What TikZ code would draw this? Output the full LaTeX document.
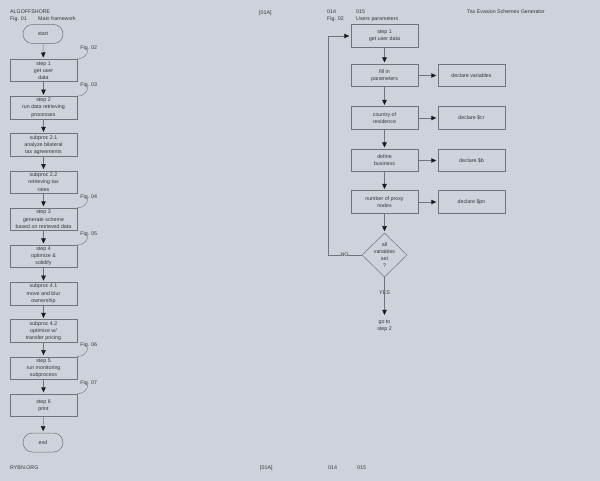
\documentclass[tikz,border=0pt]{standalone}
\usepackage{fontspec}
\setmainfont{Liberation Sans}
\usetikzlibrary{arrows.meta,shapes.geometric,shapes.misc}
\definecolor{bg}{RGB}{206,211,219}
\definecolor{ln}{RGB}{112,116,122}
\definecolor{tx}{RGB}{50,53,58}
\definecolor{hd}{RGB}{25,27,30}
\begin{document}
\begin{tikzpicture}[x=1pt,y=-1pt,
  font=\fontsize{5.3}{7.2}\selectfont,
  every node/.style={text=tx},
  box/.style={draw=ln, line width=0.5pt, minimum width=67pt, minimum height=22.5pt, inner sep=0pt, align=center},
  term/.style={draw=ln, line width=0.5pt, rounded rectangle, minimum width=40pt, minimum height=19pt, inner sep=0pt},
  dia/.style={draw=ln, line width=0.5pt, diamond, minimum width=45pt, minimum height=44pt, inner sep=0pt},
  arr/.style={draw=ln, line width=0.5pt, -{Triangle[width=4.5pt,length=5pt,color=hd]}, shorten >=1.5pt},
  ln/.style={draw=ln, line width=0.5pt},
  figlink/.style={draw=ln, line width=0.4pt},
  lbl/.style={anchor=west, inner sep=0pt},
  txt/.style={inner sep=0pt, align=center}]
\fill[bg] (0,0) rectangle (600,481);
\useasboundingbox (0,0) rectangle (600,481);

% headers
\node[lbl] (h1) at (10,12) {ALGOFFSHORE};
\node[lbl] (h2) at (10,19) {Fig. 01};
\node[lbl] (h3) at (38,19) {Main framework};
\node[lbl] (h4) at (259,13) {[01A]};
\node[lbl] (h5) at (327,12) {014};
\node[lbl] (h6) at (327,19) {Fig. 02};
\node[lbl] (h7) at (356,12) {015};
\node[lbl] (h8) at (356,19) {Users parameters};
\node[lbl] (h9) at (467,12) {Tax Evasion Schemes Generator};
% footers
\node[lbl] (f1) at (10,468) {RYBN.ORG};
\node[lbl] (f2) at (260,468) {[01A]};
\node[lbl] (f3) at (328,468) {014};
\node[lbl] (f4) at (357,468) {015};

% main framework
\node[term] (start) at (43,34) {start};
\node[box] (s1) at (43.5,70.5) {step 1\\get user\\data};
\node[box] (s2) at (43.5,107.7) {step 2\\run data retrieving\\processes};
\node[box] (s3) at (43.5,144.9) {subproc 2.1\\analyze bilateral\\tax agreements};
\node[box] (s4) at (43.5,182.1) {subproc 2.2\\retrieving tax\\rates};
\node[box] (s5) at (43.5,219.3) {step 3\\generate scheme\\based on retrieved data};
\node[box] (s6) at (43.5,256.5) {step 4\\optimize \&\\solidify};
\node[box] (s7) at (43.5,293.7) {subproc 4.1\\move and blur\\ownership};
\node[box] (s8) at (43.5,330.9) {subproc 4.2\\optimize w/\\transfer pricing};
\node[box] (s9) at (43.5,368.1) {step 5\\run monitoring\\subprocess};
\node[box] (s10) at (43.5,405.3) {step 6\\print};
\node[term] (end) at (43,442.5) {end};

\draw[arr] (start) -- (s1);
\draw[arr] (s1) -- (s2);
\draw[arr] (s2) -- (s3);
\draw[arr] (s3) -- (s4);
\draw[arr] (s4) -- (s5);
\draw[arr] (s5) -- (s6);
\draw[arr] (s6) -- (s7);
\draw[arr] (s7) -- (s8);
\draw[arr] (s8) -- (s9);
\draw[arr] (s9) -- (s10);
\draw[arr] (s10) -- (end);

% fig labels
\foreach \b/\t in {s1/02, s2/03, s5/04, s6/05, s9/06, s10/07}{
  \node[lbl] (fig\t) at ([xshift=3pt,yshift=11pt]\b.north east) {Fig. \t};
  \draw[figlink] ([xshift=-1pt,yshift=1pt]fig\t.south) .. controls +(0,6) and +(5,0) .. (\b.north east);
}

% users parameters
\node[box] (r1) at (384.5,36) {step 1\\get user data};
\node[box] (r2) at (384.5,75.5) {fill in\\parameters};
\node[box] (r3) at (384.5,118) {country of\\residence};
\node[box] (r4) at (384.5,160.5) {define\\business};
\node[box] (r5) at (384.5,202) {number of proxy\\nodes};
\node[box] (d2) at (471.5,75.5) {declare variables};
\node[box] (d3) at (471.5,118) {declare \$cr};
\node[box] (d4) at (471.5,160.5) {declare \$b};
\node[box] (d5) at (471.5,202) {declare \$pn};
\node[dia] (dm) at (384.5,255) {};
\node[txt] (dmt) at (dm.center) {all\\variables\\set\\?};
\node[txt] (no) at (344.5,255) {NO};
\node[txt] (yes) at (384.5,293) {YES};
\node[txt, inner sep=3pt] (go) at (384.5,325.5) {go to\\step 2};
\coordinate (lc) at (328,255);

\draw[arr] (r1) -- (r2);
\draw[arr] (r2) -- (r3);
\draw[arr] (r3) -- (r4);
\draw[arr] (r4) -- (r5);
\draw[arr] (r5) -- (dm);
\draw[arr] (r2) -- (d2);
\draw[arr] (r3) -- (d3);
\draw[arr] (r4) -- (d4);
\draw[arr] (r5) -- (d5);
\draw[ln] (dm.west) -- ([xshift=-2pt]no.east);
\draw[arr] ([xshift=2pt]no.west) -- (lc) |- (r1.west);
\draw[ln] (dm.south) -- ([yshift=-2pt]yes.north);
\draw[arr] ([yshift=2pt]yes.south) -- (go.north);
\end{tikzpicture}
\end{document}
